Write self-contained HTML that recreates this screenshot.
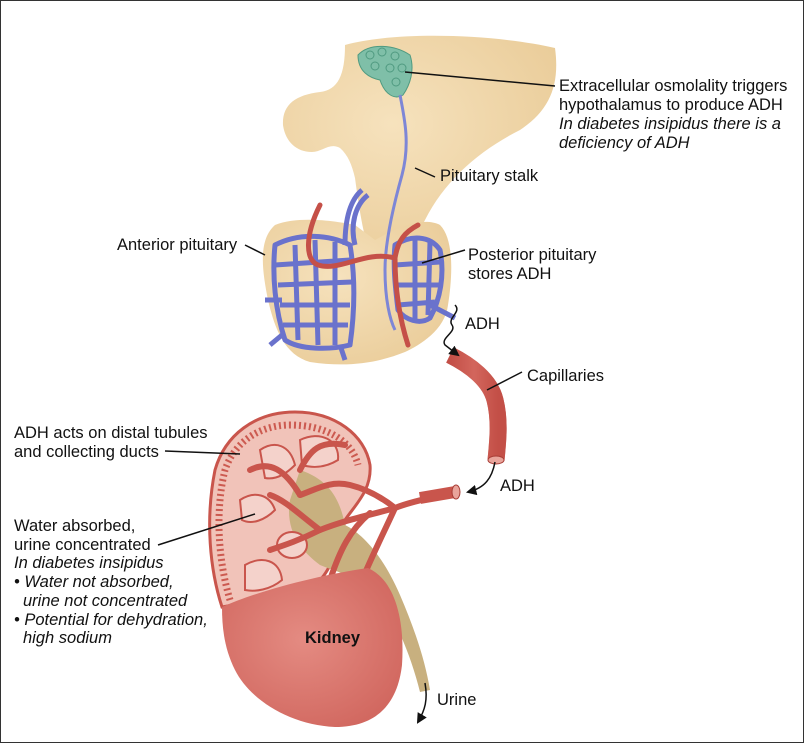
<!DOCTYPE html>
<html><head><meta charset="utf-8"><style>
html,body{margin:0;padding:0;background:#fff}
svg{display:block}
text{font-family:"Liberation Sans",Arial,sans-serif;font-size:16.5px;fill:#111}
.i{font-style:italic}
</style></head><body>
<svg width="804" height="743" viewBox="0 0 804 743" xmlns="http://www.w3.org/2000/svg">
<defs>
<marker id="ah" viewBox="0 0 10 10" refX="8" refY="5" markerWidth="7" markerHeight="7" orient="auto-start-reverse"><path d="M0,0 L10,5 L0,10 z" fill="#111"/></marker>
<radialGradient id="tan" cx="0.4" cy="0.4" r="0.8"><stop offset="0" stop-color="#f6e2bd"/><stop offset="1" stop-color="#e8c994"/></radialGradient>
<radialGradient id="kid" cx="0.45" cy="0.45" r="0.7"><stop offset="0" stop-color="#e48b82"/><stop offset="1" stop-color="#cf635b"/></radialGradient>
<linearGradient id="ves" x1="0" y1="0" x2="1" y2="0"><stop offset="0" stop-color="#b9473f"/><stop offset="0.5" stop-color="#e07f74"/><stop offset="1" stop-color="#b9473f"/></linearGradient>
</defs>
<rect x="0.5" y="0.5" width="803" height="742" fill="#fff" stroke="#333" stroke-width="1"/>

<!-- Hypothalamus -->
<path d="M345,45 C400,30 500,35 555,48 C560,85 550,110 520,130 C480,150 445,180 425,220 C415,240 410,250 405,255 L370,255 C362,230 358,200 355,178 C352,165 348,155 340,148 C330,142 322,152 312,152 C295,152 285,140 283,125 C282,105 295,95 320,92 C338,90 345,75 345,45 Z" fill="url(#tan)"/>
<!-- Pituitary -->
<path d="M275,225 C300,215 340,222 355,225 L375,240 C390,232 420,215 440,225 C455,240 452,280 448,305 C445,330 420,345 405,352 C380,362 350,368 310,362 C285,355 275,330 268,300 C262,270 258,240 275,225 Z" fill="url(#tan)"/>
<!-- green cluster -->
<g fill="#7fbfa8" stroke="#4f9a80" stroke-width="1">
<path d="M358,55 C370,42 395,45 410,55 C415,70 410,85 403,95 C395,100 385,95 380,80 C370,78 358,72 358,55 Z"/>
<circle cx="370" cy="55" r="4" fill="none"/><circle cx="382" cy="52" r="4" fill="none"/><circle cx="395" cy="56" r="4" fill="none"/><circle cx="375" cy="66" r="4" fill="none"/><circle cx="390" cy="68" r="4" fill="none"/><circle cx="402" cy="68" r="4" fill="none"/><circle cx="396" cy="82" r="4" fill="none"/>
</g>
<!-- neuron tract -->
<path d="M400,95 C405,120 410,145 402,175 C395,200 385,240 385,270 C385,300 390,320 395,330" fill="none" stroke="#7d86d6" stroke-width="3"/>
<!-- blue mesh -->
<g fill="none" stroke="#6a72cc" stroke-width="5" stroke-linejoin="round">
<path d="M275,245 C300,232 330,235 350,245 C355,275 355,310 350,345 C330,350 300,350 285,340 C275,310 272,275 275,245 Z"/>
<path d="M275,265 L350,260 M278,285 L352,282 M280,305 L350,305 M283,325 L348,325 M295,245 L298,340 M315,240 L318,345 M335,242 L335,345 M265,300 L282,300 M270,345 L282,335 M340,345 L345,360"/>
<path d="M395,245 C410,235 430,235 440,250 C445,275 440,300 430,318 C420,325 405,320 398,310 C395,285 393,265 395,245 Z"/>
<path d="M395,265 L440,262 M396,285 L440,285 M398,305 L435,302 M415,240 L415,320 M430,242 L428,315 M430,305 L455,318"/>
<path d="M355,245 C350,225 355,205 368,195 M345,245 C345,220 350,200 362,190"/>
</g>
<!-- red vessels pituitary -->
<g fill="none" stroke="#c55048" stroke-width="5" stroke-linecap="round">
<path d="M320,205 C305,235 305,260 318,265 C340,272 365,250 395,258 C395,290 400,320 408,345"/>
<path d="M395,258 C398,240 405,232 418,225"/>
</g>
<!-- Capillary tube -->
<path d="M450,355 C470,365 490,380 495,400 C500,420 498,440 496,460" fill="none" stroke="url(#ves)" stroke-width="17"/>
<path d="M450,355 C470,365 490,380 495,400 C500,420 498,440 496,460" fill="none" stroke="#c9554c" stroke-width="17" opacity="0.6"/>
<ellipse cx="496" cy="460" rx="8" ry="4" fill="#e9a49b" stroke="#a83c35"/>

<!-- Kidney section -->
<path d="M222,607 C210,570 205,520 215,470 C225,435 255,412 295,412 C335,412 365,435 370,465 C372,490 355,505 345,520 C340,545 330,570 320,580 C300,590 260,600 222,607 Z" fill="#f1c3b9" stroke="#c9554c" stroke-width="3"/>
<path d="M230,600 C218,560 215,510 225,470 C235,440 262,425 290,425 C325,425 352,440 358,465" fill="none" stroke="#cc5a50" stroke-width="7" stroke-dasharray="2 3"/>
<!-- pelvis / ureter -->
<path d="M300,470 C330,480 340,500 345,525 C365,535 385,560 400,595 C415,630 425,660 430,690 L420,692 C412,660 400,630 385,605 C370,580 345,575 320,565 C300,550 285,530 290,500 Z" fill="#c8b07f"/>
<g fill="#f4d2cb" stroke="#c9554c" stroke-width="2">
<path d="M260,450 C275,440 290,445 295,465 C285,475 275,480 265,478 Z"/>
<path d="M300,440 C320,430 340,440 338,460 C325,468 312,468 302,465 Z"/>
<path d="M240,500 C255,490 270,495 275,510 C265,520 252,525 242,520 Z"/>
<ellipse cx="292" cy="545" rx="15" ry="13"/>
<path d="M245,565 C262,555 280,560 282,580 C270,590 255,592 245,590 Z"/>
</g>
<g fill="none" stroke="#c9554c" stroke-width="6" stroke-linecap="round">
<path d="M455,492 C430,498 410,502 395,508 C370,515 345,520 320,530 C300,540 285,545 270,550"/>
<path d="M395,508 C385,500 370,490 350,485 C330,480 315,490 300,495"/>
<path d="M395,508 C385,530 370,560 360,585"/>
<path d="M370,513 C350,530 340,550 330,580"/>
<path d="M300,495 C285,470 270,460 250,470 M320,530 C300,515 285,500 270,495 M300,470 C310,450 320,440 345,445"/>
</g>
<path d="M455,492 L420,498" stroke="#c9554c" stroke-width="12"/>
<ellipse cx="456" cy="492" rx="4" ry="7" fill="#e9a49b" stroke="#a83c35"/>
<path d="M222,607 C260,590 320,575 368,568 C395,580 405,620 402,665 C398,700 380,727 335,727 C290,725 250,700 235,670 C225,650 222,630 222,607 Z" fill="url(#kid)"/>

<g stroke="#111" stroke-width="1.5" fill="none">
<line x1="405" y1="72" x2="555" y2="86"/>
<line x1="415" y1="168" x2="435" y2="177"/>
<line x1="245" y1="245" x2="265" y2="255"/>
<line x1="422" y1="263" x2="465" y2="250"/>
<line x1="487" y1="390" x2="522" y2="372"/>
<line x1="165" y1="451" x2="240" y2="454"/>
<line x1="158" y1="545" x2="255" y2="514"/>
<path d="M455,305 C462,312 447,318 452,325 C457,332 440,338 445,345 L458,355" marker-end="url(#ah)"/>
<path d="M495,462 C492,478 485,488 468,492" marker-end="url(#ah)"/>
<path d="M425,683 C428,700 425,710 418,722" marker-end="url(#ah)"/>
</g>
<text x="559" y="91">Extracellular osmolality triggers</text>
<text x="559" y="110">hypothalamus to produce ADH</text>
<text x="559" y="129" class="i">In diabetes insipidus there is a</text>
<text x="559" y="148" class="i">deficiency of ADH</text>
<text x="440" y="181">Pituitary stalk</text>
<text x="117" y="250">Anterior pituitary</text>
<text x="468" y="260">Posterior pituitary</text>
<text x="468" y="279">stores ADH</text>
<text x="465" y="329">ADH</text>
<text x="527" y="381">Capillaries</text>
<text x="14" y="438">ADH acts on distal tubules</text>
<text x="14" y="457">and collecting ducts</text>
<text x="500" y="491">ADH</text>
<text x="14" y="531">Water absorbed,</text>
<text x="14" y="550">urine concentrated</text>
<text x="14" y="568" class="i">In diabetes insipidus</text>
<text x="14" y="587" class="i">• Water not absorbed,</text>
<text x="23" y="606" class="i">urine not concentrated</text>
<text x="14" y="625" class="i">• Potential for dehydration,</text>
<text x="23" y="643" class="i">high sodium</text>
<text x="305" y="643" style="font-weight:bold">Kidney</text>
<text x="437" y="705">Urine</text>
</svg>
</body></html>
